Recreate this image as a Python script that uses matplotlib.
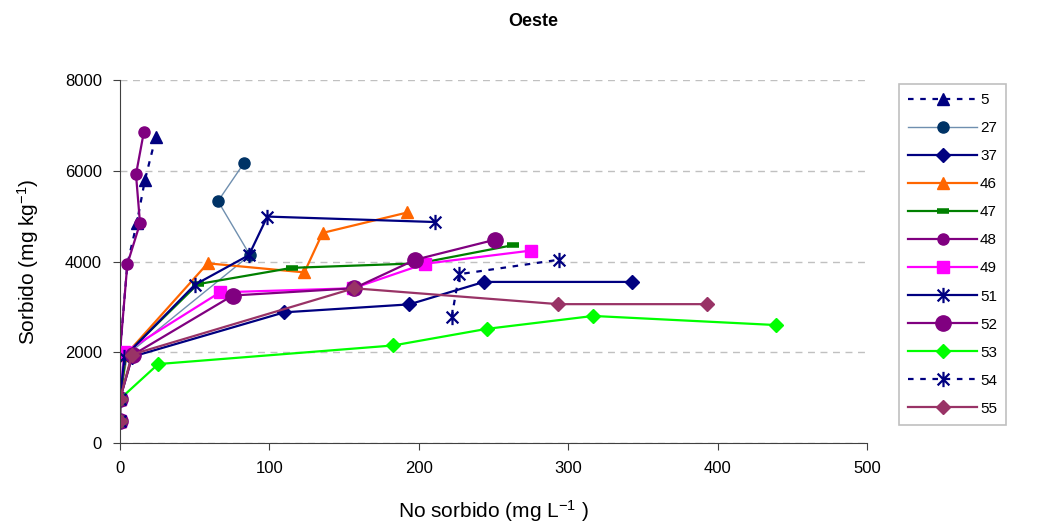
import numpy as np
import matplotlib
matplotlib.use("Agg")
import matplotlib.pyplot as plt
from matplotlib.path import Path

plt.rcParams['font.family'] = ['Liberation Sans', 'DejaVu Sans']
plt.rcParams['mathtext.fontset'] = 'custom'
plt.rcParams['mathtext.rm'] = 'Liberation Sans'
plt.rcParams['mathtext.it'] = 'Liberation Sans'
plt.rcParams['mathtext.default'] = 'regular'

# series data (x = no sorbido, y = sorbido)
labels = ["5", "27", "37", "46", "47", "48", "49", "51", "52", "53", "54", "55"]
x_5 = [0, 0, 0, 4.9, 11.2, 16.7, 24.0]
y_5 = [490, 970, 2005, 3940, 4840, 5800, 6750]
x_27 = [0, 0, 5, 87, 65.6, 83]
y_27 = [490, 970, 1950, 4140, 5330, 6170]
x_37 = [0, 0, 8, 110, 193.6, 243.6, 343]
y_37 = [490, 970, 1900, 2880, 3055, 3550, 3550]
x_46 = [0, 0, 4, 58.7, 123.4, 135.6, 192.3]
y_46 = [490, 970, 1950, 3960, 3760, 4630, 5080]
x_47 = [0, 0, 4, 52, 115, 200, 263]
y_47 = [490, 970, 1950, 3500, 3860, 3960, 4360]
x_48 = [0, 0, 0, 4.9, 13.4, 10.7, 16.0]
y_48 = [490, 970, 2005, 3940, 4840, 5920, 6860]
x_49 = [0, 0, 3, 66.9, 156, 204, 274.9]
y_49 = [490, 970, 2000, 3320, 3410, 3950, 4240]
x_51 = [0, 0, 3, 50.2, 86.3, 98.6, 210.8]
y_51 = [490, 970, 1900, 3490, 4140, 4990, 4870]
x_52 = [0, 0, 8.5, 75.4, 156.6, 197.7, 251]
y_52 = [490, 970, 1940, 3250, 3410, 4040, 4480]
x_53 = [0, 0, 25.6, 183, 245.4, 316.8, 438.8]
y_53 = [490, 970, 1740, 2150, 2515, 2800, 2600]
x_54 = [0, 0, np.nan, 222, 227, 294]
y_54 = [490, 970, np.nan, 2770, 3720, 4040]
x_55 = [0, 0, 8, 156.6, 293.4, 392.6]
y_55 = [490, 970, 1950, 3410, 3060, 3060]

# excel style asterisk: an x with a vertical bar
asterisk = Path([(-1, -1), (1, 1), (-1, 1), (1, -1), (0, -1.3), (0, 1.3)],
                [Path.MOVETO, Path.LINETO, Path.MOVETO, Path.LINETO,
                 Path.MOVETO, Path.LINETO])

dash = (0, (2.5, 3))
styles = [
    dict(color="#000080", ls=dash, marker="^", ms=9, markevery=[0, 1, 4, 5, 6]),
    dict(color="#6F8FAF", lw=1.0, marker="o", ms=8, mfc="#003366", mec="#003366"),
    dict(color="#000080", marker="D", ms=7),
    dict(color="#FF6600", marker="^", ms=9),
    dict(color="#008000", marker="_", ms=9, mew=4),
    dict(color="#800080", marker="o", ms=8),
    dict(color="#FF00FF", marker="s", ms=8),
    dict(color="#000080", marker=asterisk, ms=11, mew=1.6, mfc="none"),
    dict(color="#800080", marker="o", ms=11),
    dict(color="#00FF00", marker="D", ms=7),
    dict(color="#000080", ls=dash, marker=asterisk, ms=11, mew=1.6, mfc="none"),
    dict(color="#993366", marker="D", ms=7),
]
xs = [x_5, x_27, x_37, x_46, x_47, x_48, x_49, x_51, x_52, x_53, x_54, x_55]
ys = [y_5, y_27, y_37, y_46, y_47, y_48, y_49, y_51, y_52, y_53, y_54, y_55]

fig = plt.figure(figsize=(10.37, 5.27), dpi=100)
ax = fig.add_axes([120 / 1037, 84 / 527, 747 / 1037, 363 / 527])

for x, y, lab, st in zip(xs, ys, labels, styles):
    st = dict(st)
    st.setdefault("lw", 1.6)
    ax.plot(x, y, label=lab, **st)

ax.set_xlim(0, 500)
ax.set_ylim(0, 8000)
ax.set_xticks(np.arange(0, 501, 100))
ax.set_yticks(np.arange(0, 8001, 2000))
ax.yaxis.grid(True, ls=(0, (5, 4)), color="#c0c0c0", lw=1)
ax.set_axisbelow(True)
for s in ["top", "right"]:
    ax.spines[s].set_visible(False)
for s in ["left", "bottom"]:
    ax.spines[s].set_color("#404040")
ax.tick_params(direction="out", length=5, color="#404040", labelsize=12, pad=8)

ax.set_xlabel("No sorbido (mg L$^{-1}$ )", fontsize=15, labelpad=16)
ax.set_ylabel("Sorbido (mg kg$^{-1}$)", fontsize=15, labelpad=17)
fig.text(533 / 1037, 1 - 22 / 527, "Oeste", fontsize=13, fontweight="bold",
         ha="center", va="center")

leg = fig.legend(loc="upper left", bbox_to_anchor=(899 / 1037, 1 - 84 / 527),
                 fontsize=11, handlelength=4.5, labelspacing=0.92,
                 borderpad=0.6, handletextpad=0.2, fancybox=False,
                 framealpha=1, edgecolor="#c0c0c0", borderaxespad=0)
leg.get_frame().set_linewidth(1.2)

fig.savefig("out.png", dpi=100)
